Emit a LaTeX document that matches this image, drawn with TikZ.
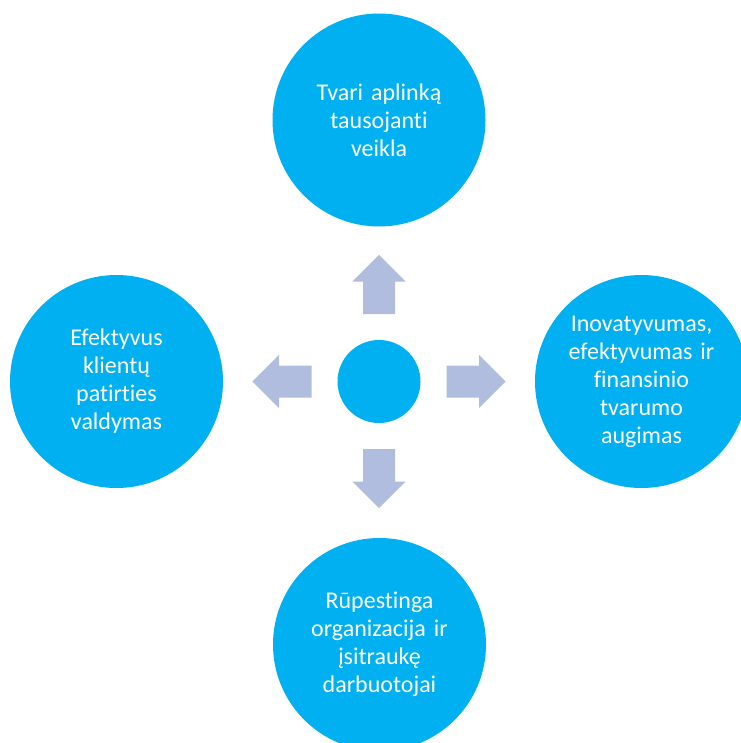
\documentclass[tikz,border=0pt]{standalone}
\usepackage{fontspec}
\setmainfont{Carlito}[Ligatures=NoCommon,WordSpace=0.85]
\usepackage{tikz}
\usetikzlibrary{backgrounds,calc}
\definecolor{ciano}{RGB}{0,176,240}
\definecolor{levanda}{RGB}{177,189,223}
\tikzset{
  bigdisc/.style={circle,fill=ciano,minimum size=159.75pt,inner sep=0pt,
    text=white,align=center,text width=125pt,
    font=\fontsize{18}{21}\selectfont},
  hubdisc/.style={circle,fill=ciano,minimum size=62.25pt,inner sep=0pt},
  blockarrow/.style={fill=levanda}
}

\begin{document}
\begin{tikzpicture}[x=0.75pt,y=-0.75pt]
\useasboundingbox (0,0) rectangle (740,743);
\node[hubdisc] (centras) at (379,381.5) {};
\node[bigdisc] (veikla) at (379,120) {Tvari aplinką\\tausojanti\\veikla};
\node[bigdisc] (klientai) at (116.5,381.5) {Efektyvus\\klientų\\patirties\\valdymas};
\node[bigdisc] (augimas) at (641.5,381.5) {Inovatyvumas,\\efektyvumas ir\\finansinio\\tvarumo\\augimas};
\node[bigdisc] (darbuotojai) at (379.5,644.5) {Rūpestinga\\organizacija ir\\įsitraukę\\darbuotojai};
% rodykles is centro
\foreach \a in {0,90,180,270}
  \fill[blockarrow,shift={(centras)},rotate=\a]
    (67.5,-16) -- (100,-16) -- (100,-26.7) -- (126.7,0)
    -- (100,26.7) -- (100,16) -- (67.5,16) -- cycle;
\end{tikzpicture}
\end{document}
